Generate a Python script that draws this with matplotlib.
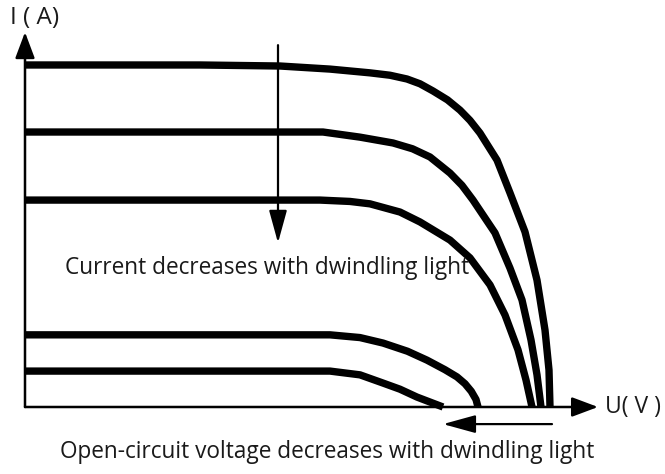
import matplotlib.pyplot as plt

# curvas I-U para niveis de luz decrescentes (U em V, I em A)
u1 = [0, 7, 10.2, 12.2, 13.8, 14.6, 15.28, 15.8, 16.32, 16.9, 17.4, 17.8, 18.2, 18.88, 19.4, 20.0, 20.48, 20.8, 20.96, 21.0]
i1 = [10.0, 10.0, 9.97, 9.88, 9.77, 9.70, 9.59, 9.45, 9.24, 8.98, 8.68, 8.38, 8.01, 7.22, 6.26, 5.12, 3.71, 2.25, 1.08, 0]

u2 = [0, 11.92, 13.4, 14.72, 15.5, 16.2, 17.0, 17.48, 17.92, 18.8, 19.4, 19.88, 20.24, 20.48, 20.64]
i2 = [8.04, 8.04, 7.89, 7.72, 7.55, 7.31, 6.84, 6.48, 6.05, 5.09, 4.06, 3.13, 1.96, 0.94, 0]

u3 = [0, 11.8, 13.0, 13.8, 15.0, 15.8, 17.0, 17.8, 18.6, 19.2, 19.72, 20.04, 20.28]
i3 = [6.05, 6.05, 6.01, 5.94, 5.70, 5.41, 4.88, 4.36, 3.57, 2.69, 1.67, 0.79, 0]

u4 = [0, 12.2, 13.4, 14.32, 15.3, 16.08, 16.8, 17.28, 17.6, 17.85, 18.04, 18.12]
i4 = [2.11, 2.11, 2.03, 1.87, 1.63, 1.37, 1.09, 0.88, 0.68, 0.46, 0.22, 0]

u5 = [0, 12.2, 13.4, 14.32, 15.0, 15.68, 16.72]
i5 = [1.05, 1.05, 0.94, 0.70, 0.52, 0.29, 0]

curvas = [(u1, i1), (u2, i2), (u3, i3), (u4, i4), (u5, i5)]

plt.rcParams['font.family'] = ['Open Sans', 'DejaVu Sans']
cor_texto = '#1a1a1a'

fig = plt.figure(figsize=(6.65, 4.74), dpi=100)
ax = fig.add_axes([0, 0, 1, 1])
ax.axis('off')
ax.set_xlim(-1, 25.6)
ax.set_ylim(-1.959, 11.90)

# eixos com setas
seta = dict(arrowstyle='-|>,head_length=1.6,head_width=0.6', color='black',
            lw=1.8, shrinkA=0, shrinkB=0, mutation_scale=10)
ax.annotate('', xy=(0, 10.96), xytext=(0, 0), arrowprops=seta)
ax.annotate('', xy=(22.92, 0), xytext=(0, 0), arrowprops=seta)

for u, i in curvas:
    ax.plot(u, i, color='black', lw=5.3, solid_joinstyle='round', solid_capstyle='butt')

# setas indicativas
seta2 = dict(arrowstyle='-|>,head_length=2.0,head_width=0.55', color='black',
             lw=1.6, shrinkA=0, shrinkB=0, mutation_scale=10)
ax.annotate('', xy=(10.12, 4.80), xytext=(10.12, 10.58), arrowprops=seta2)
ax.annotate('', xy=(16.72, -0.50), xytext=(21.08, -0.50), arrowprops=seta2)

ax.text(-0.6, 11.37, 'I ( A)', fontsize=17.5, color=cor_texto, va='center', ha='left')
ax.text(23.2, 0, 'U( V )', fontsize=16.5, color=cor_texto, va='center', ha='left')
ax.text(1.6, 4.06, 'Current decreases with dwindling light', fontsize=16.3,
        color=cor_texto, va='center', ha='left')
ax.text(1.4, -1.32, 'Open-circuit voltage decreases with dwindling light', fontsize=16.3,
        color=cor_texto, va='center', ha='left')

fig.savefig('out.png', dpi=100, facecolor='white')
